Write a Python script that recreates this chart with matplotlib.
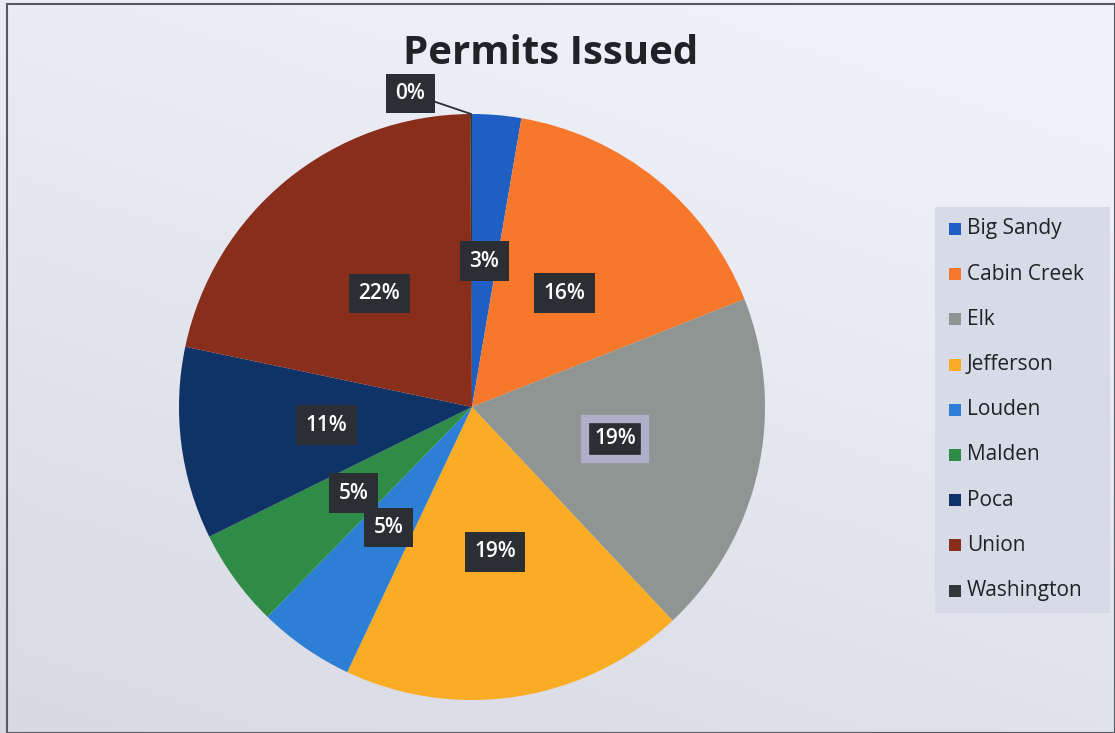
import numpy as np
import matplotlib
matplotlib.use("Agg")
import matplotlib.pyplot as plt
from matplotlib.patches import Rectangle

categories = ["Big Sandy", "Cabin Creek", "Elk", "Jefferson", "Louden",
              "Malden", "Poca", "Union", "Washington"]
values = [2.7, 16.3, 19.0, 19.0, 5.3, 5.4, 10.6, 21.6, 0.1]
colors = ["#1F5FC4", "#F7782A", "#8E9592", "#F9AC24", "#2C7FD4",
          "#2E8C46", "#0F3366", "#8A2E1C", "#33373A"]
title = "Permits Issued"

plt.rcParams['font.family'] = ['Open Sans', 'DejaVu Sans']

W, H = 1115, 733
fig = plt.figure(figsize=(W / 100, H / 100), dpi=100)

# background gradient (light at top-right, greyer toward bottom-left)
bg = fig.add_axes([0, 0, 1, 1])
yy, xx = np.mgrid[0:1:200j, 0:1:300j]
t = np.clip(0.7 * yy + 0.35 * (1 - xx) - 0.1, 0, 1)
top = np.array([0.945, 0.95, 0.975])
bot = np.array([0.84, 0.845, 0.89])
img = top[None, None, :] * (1 - t[..., None]) + bot[None, None, :] * t[..., None]
bg.imshow(img, extent=[0, 1, 0, 1], aspect='auto', origin='upper')
bg.add_patch(Rectangle((0.006, 0.0), 0.994, 0.995, fill=False,
                       edgecolor='#555a60', lw=1.5, transform=bg.transAxes))
bg.set_xlim(0, 1)
bg.set_ylim(0, 1)
bg.set_axis_off()

# pie axes
cx, cy, r = 472, 407, 293
ax = fig.add_axes([(cx - r) / W, (H - cy - r) / H, 2 * r / W, 2 * r / H])
wedges, texts, autotexts = ax.pie(
    values, colors=colors, startangle=90, counterclock=False, radius=1.0,
    autopct=lambda p: f"{p:.0f}%", pctdistance=0.5,
    wedgeprops=dict(linewidth=0),
    textprops=dict(color='white', fontsize=15, fontweight='semibold'))
ax.set_xlim(-1, 1)
ax.set_ylim(-1, 1)
ax.set_aspect('equal')
ax.set_axis_off()

boxstyle = dict(boxstyle='square,pad=0.45', fc='#2B2F33', ec='none')
for i, at in enumerate(autotexts):
    if categories[i] == "Washington":
        at.set_visible(False)
        continue
    at.set_bbox(boxstyle)
    if categories[i] == "Elk":
        at.set_bbox(dict(boxstyle='square,pad=0.45', fc='#2B2F33',
                         ec='#B0AEC8', lw=6))

# Washington label with leader line
wi = categories.index("Washington")
w = wedges[wi]
ang = np.deg2rad((w.theta1 + w.theta2) / 2)
ax.annotate("0%", xy=(np.cos(ang), np.sin(ang)), xytext=(-0.21, 1.07),
            color='white', fontsize=15, fontweight='semibold',
            ha='center', va='center', bbox=boxstyle,
            arrowprops=dict(arrowstyle='-', color='#2B2F33', lw=1.3,
                            shrinkA=0, shrinkB=0))

fig.text(551 / W, 1 - 53 / H, title, fontsize=29, fontweight='bold',
         color='#1F2326', ha='center', va='center')

# legend
lx0, ly0, lx1, ly1 = 935, 207, 1110, 613
bg.add_patch(Rectangle((lx0 / W, 1 - ly1 / H), (lx1 - lx0) / W, (ly1 - ly0) / H,
                       fc='#D6DBE7', ec='none', transform=bg.transAxes))
for i, (c, col) in enumerate(zip(categories, colors)):
    y = 229 + i * 45.2
    bg.add_patch(Rectangle((949 / W, 1 - (y + 6) / H), 12 / W, 12 / H,
                           fc=col, ec='none', transform=bg.transAxes))
    fig.text(967 / W, 1 - y / H, c, fontsize=15, color='#1F2326',
             ha='left', va='center')

fig.savefig("out.png", dpi=100)
